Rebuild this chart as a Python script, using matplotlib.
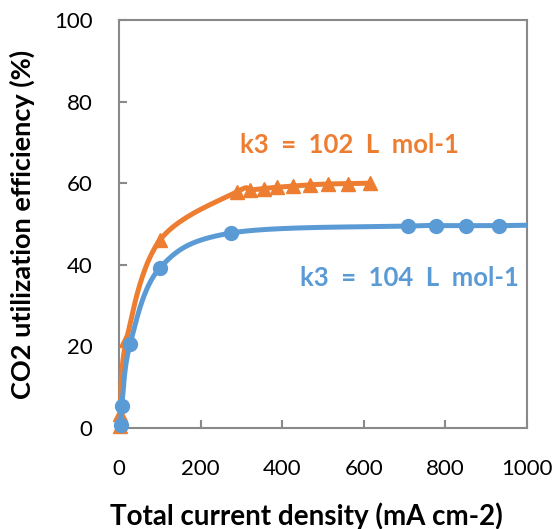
import numpy as np
import matplotlib
matplotlib.use("Agg")
import matplotlib.pyplot as plt

# Measured CO2 utilization efficiency vs total current density
current_blue = [4, 7, 27, 100, 275, 709, 777, 850, 932]
eff_blue = [0.8, 5.3, 20.5, 39.2, 47.8, 49.5, 49.6, 49.6, 49.6]
blue_curve_end = (1000, 49.7)

current_orange = [3, 3, 18, 100, 289, 321, 355, 387, 426, 468, 512, 561, 615]
eff_orange = [0.5, 3.5, 21.5, 46.0, 57.9, 58.3, 58.7, 59.0, 59.3, 59.6, 59.8, 59.9, 60.0]

label_orange = "k3  =  102  L  mol-1"
label_blue = "k3  =  104  L  mol-1"

x_ticks = [0, 200, 400, 600, 800, 1000]
y_ticks = [0, 20, 40, 60, 80, 100]

ORANGE = "#ED7D31"
BLUE = "#5B9BD5"
GRAY = "#898989"

plt.rcParams["font.family"] = ["Lato", "DejaVu Sans"]


def smooth(xs, ys, xspan=1000.0, yspan=100.0, n=40):
    """Bezier smoothing through the points (spreadsheet-style smoothed line)."""
    p = np.column_stack([np.asarray(xs, float) / xspan, np.asarray(ys, float) / yspan])
    out = [p[0]]
    t = np.linspace(0, 1, n)[1:, None]
    for i in range(len(p) - 1):
        p0 = p[i - 1] if i > 0 else p[i]
        p3 = p[i + 2] if i + 2 < len(p) else p[i + 1]
        c1 = p[i] + (p[i + 1] - p0) / 6
        c2 = p[i + 1] - (p3 - p[i]) / 6
        seg = (1 - t) ** 3 * p[i] + 3 * (1 - t) ** 2 * t * c1 + 3 * (1 - t) * t ** 2 * c2 + t ** 3 * p[i + 1]
        out.extend(seg)
    out = np.array(out)
    return out[:, 0] * xspan, out[:, 1] * yspan


fig = plt.figure(figsize=(5.58, 5.29), dpi=100)
ax = fig.add_axes([119 / 558, 1 - 428 / 529, 408 / 558, 408 / 529])

# Orange series
ox, oy = smooth(current_orange, eff_orange)
ax.plot(ox, oy, color=ORANGE, lw=3.6, solid_capstyle="round", zorder=3, clip_on=False)
ax.plot(current_orange, eff_orange, linestyle="none", marker="^", ms=10,
        color=ORANGE, zorder=4, clip_on=False)

# Blue series
bx, by = smooth(current_blue + [blue_curve_end[0]], eff_blue + [blue_curve_end[1]])
ax.plot(bx, by, color=BLUE, lw=3.6, solid_capstyle="butt", zorder=5, clip_on=False)
ax.plot(current_blue, eff_blue, linestyle="none", marker="o", ms=10,
        color=BLUE, zorder=6, clip_on=False)

ax.text(565, 69.4, label_orange, color=ORANGE, fontsize=18.5, fontweight="bold",
        ha="center", va="center")
ax.text(713, 36.8, label_blue, color=BLUE, fontsize=18.5, fontweight="bold",
        ha="center", va="center")

ax.set_xlim(0, 1000)
ax.set_ylim(0, 100)
ax.set_xticks(x_ticks)
ax.set_yticks(y_ticks)
ax.tick_params(direction="in", length=6, width=1.5, color=GRAY, labelsize=16)
ax.tick_params(axis="x", pad=22)
ax.tick_params(axis="y", pad=19)
for s in ax.spines.values():
    s.set_color(GRAY)
    s.set_linewidth(1.5)

ax.set_xlabel("Total current density (mA cm-2)", fontsize=20, fontweight="bold", labelpad=17)
ax.xaxis.label.set_x(0.46)
ax.set_ylabel("CO2 utilization efficiency (%)", fontsize=19.5, fontweight="bold", labelpad=14)

fig.savefig("out.png", dpi=100)
